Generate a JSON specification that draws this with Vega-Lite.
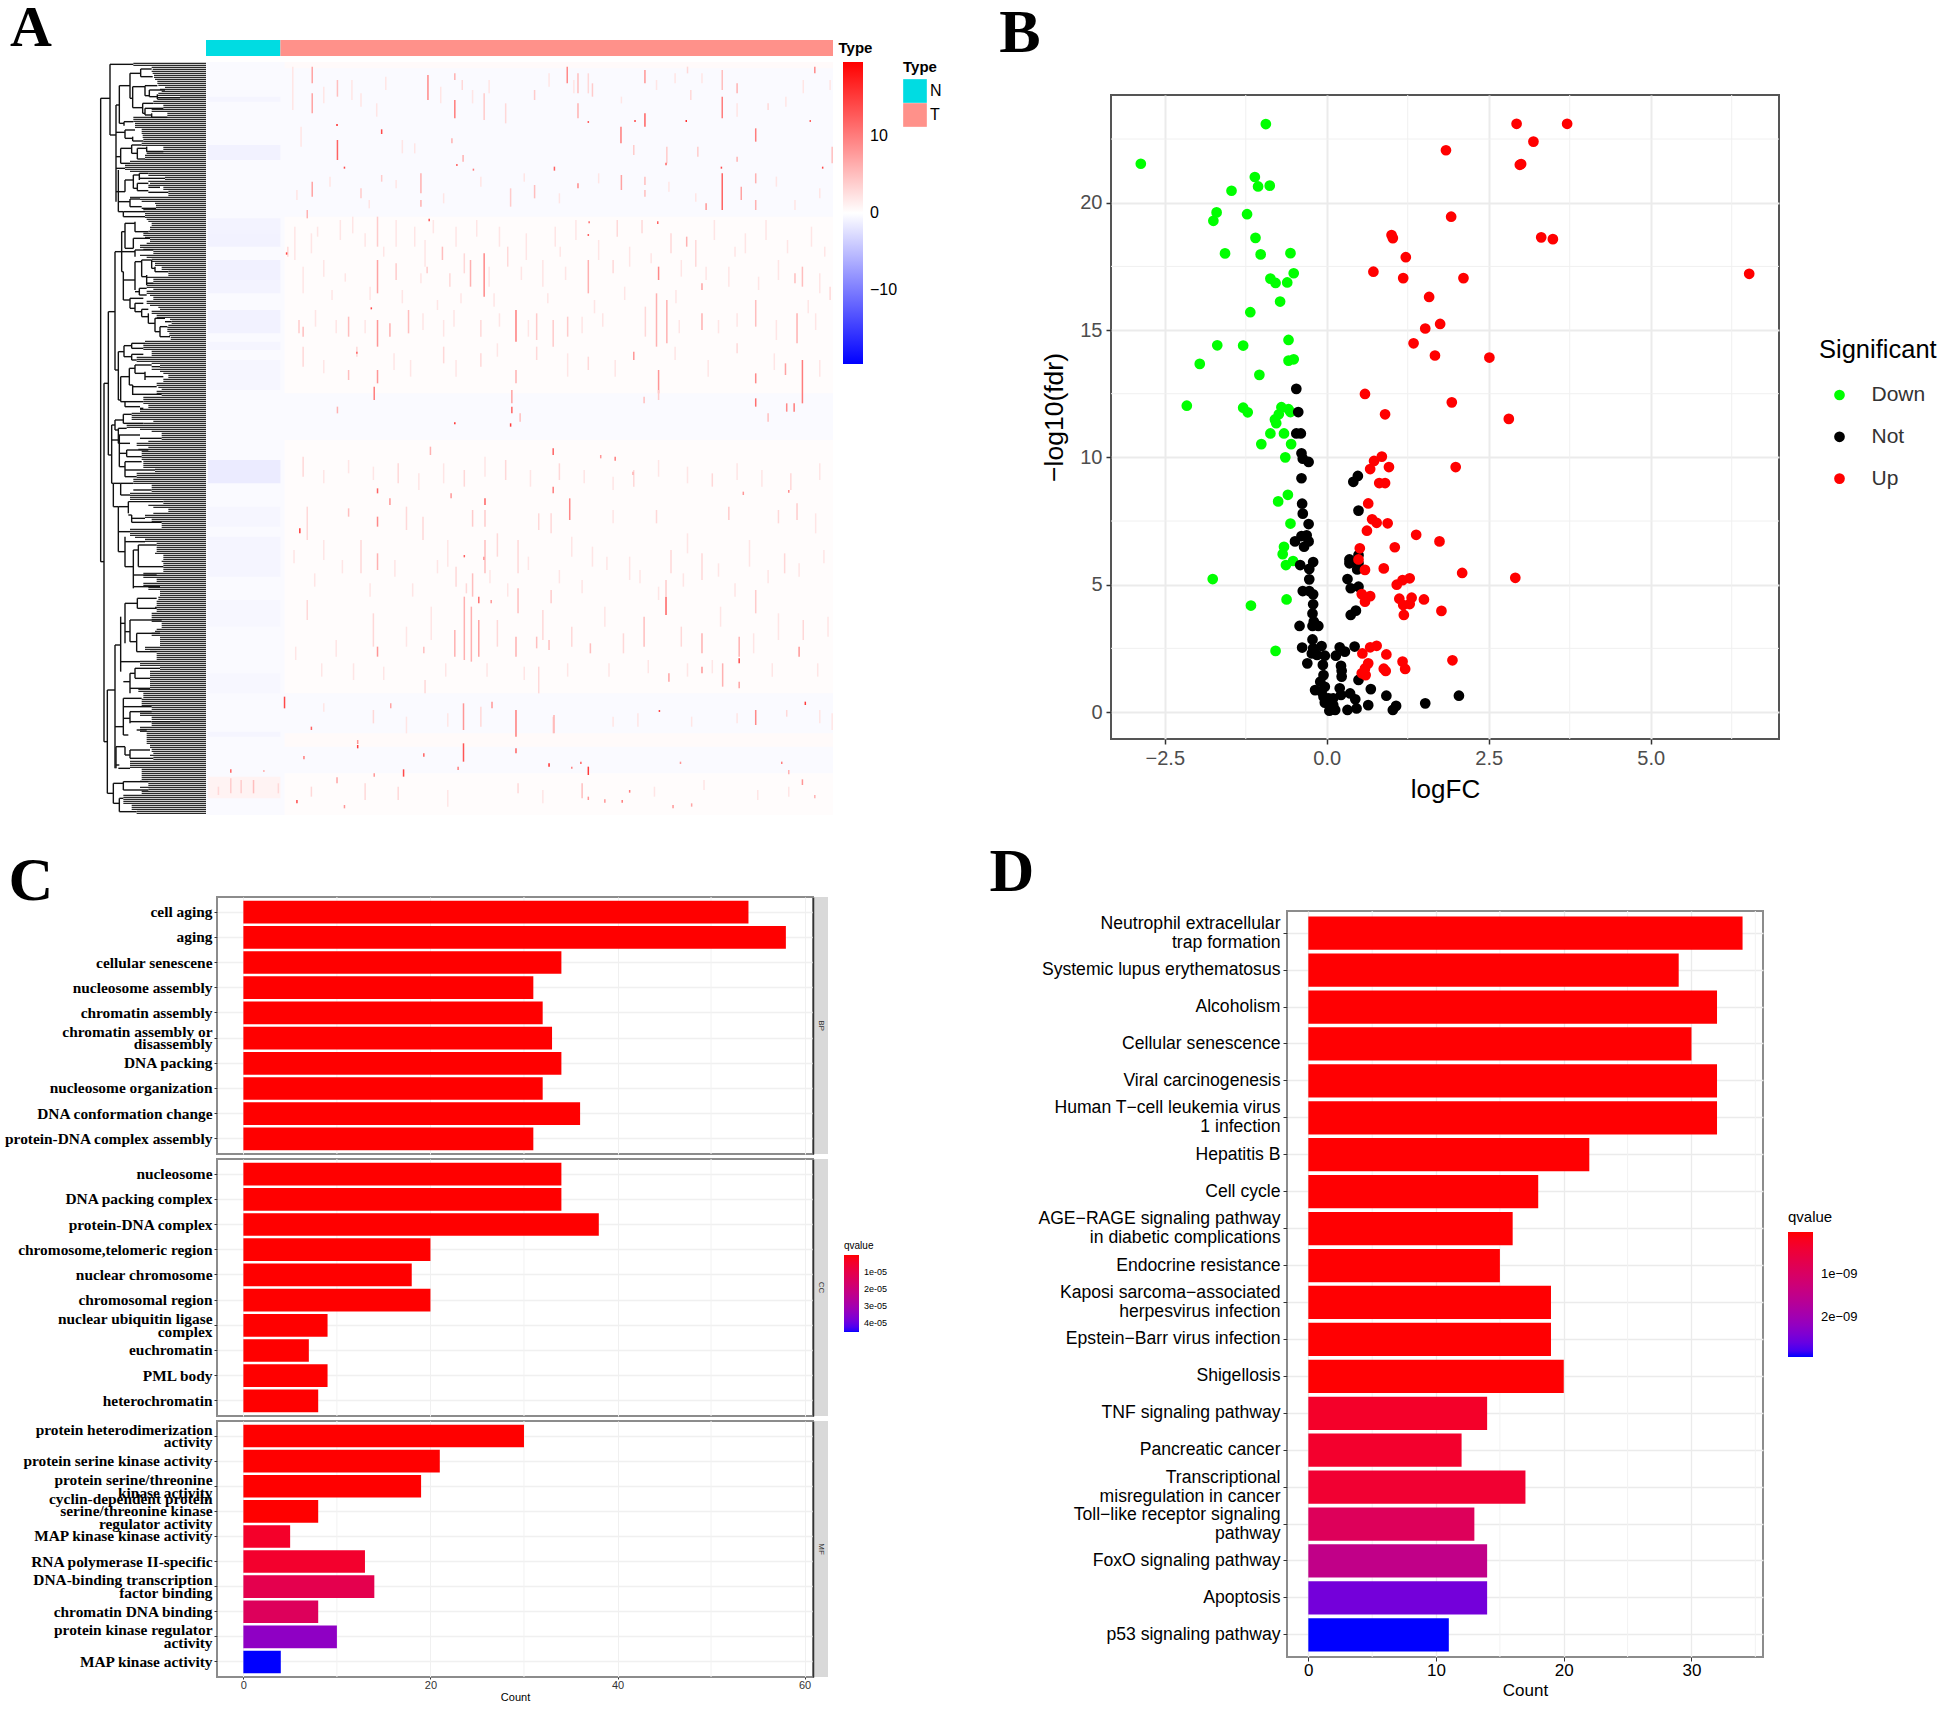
{"$schema":"https://vega.github.io/schema/vega-lite/v6.json","padding":0,"autosize":{"type":"pad"},"background":"white","config":{"view":{"stroke":null},"text":{"font":"Liberation Sans"},"axis":{"labelFont":"Liberation Sans","titleFont":"Liberation Sans","titleFontWeight":"normal"},"legend":{"labelFont":"Liberation Sans","titleFont":"Liberation Sans","titleFontWeight":"normal","padding":0}},"bounds":"flush","spacing":0,"resolve":{"scale":{"color":"independent"}},"hconcat":[
{"vconcat":[{"width":1944,"height":1709,"data":{"values":[]},"mark":"point"}],"bounds":"flush","spacing":0},
{"vconcat":[{"hconcat":[{"width":11,"height":1,"data":{"values":[]},"mark":"point"},{"width":40,"height":92,"data":{"values":[{"l":"A"}]},"mark":{"type":"text","font":"Liberation Serif","fontWeight":"bold","fontSize":58,"align":"center","baseline":"alphabetic"},"encoding":{"text":{"field":"l"}}}],"bounds":"flush","spacing":0}],"bounds":"flush","spacing":0},
{"vconcat":[{"width":1,"height":13,"data":{"values":[]},"mark":"point"},{"hconcat":[{"width":1000,"height":1,"data":{"values":[]},"mark":"point"},{"width":40,"height":40,"data":{"values":[{"l":"B"}]},"mark":{"type":"text","font":"Liberation Serif","fontWeight":"bold","fontSize":62,"align":"center","baseline":"middle"},"encoding":{"text":{"field":"l"}}}],"bounds":"flush","spacing":0}],"bounds":"flush","spacing":0},
{"vconcat":[{"width":1,"height":861,"data":{"values":[]},"mark":"point"},{"hconcat":[{"width":11,"height":1,"data":{"values":[]},"mark":"point"},{"width":40,"height":40,"data":{"values":[{"l":"C"}]},"mark":{"type":"text","font":"Liberation Serif","fontWeight":"bold","fontSize":62,"align":"center","baseline":"middle"},"encoding":{"text":{"field":"l"}}}],"bounds":"flush","spacing":0}],"bounds":"flush","spacing":0},
{"vconcat":[{"width":1,"height":852,"data":{"values":[]},"mark":"point"},{"hconcat":[{"width":992,"height":1,"data":{"values":[]},"mark":"point"},{"width":40,"height":40,"data":{"values":[{"l":"D"}]},"mark":{"type":"text","font":"Liberation Serif","fontWeight":"bold","fontSize":62,"align":"center","baseline":"middle"},"encoding":{"text":{"field":"l"}}}],"bounds":"flush","spacing":0}],"bounds":"flush","spacing":0},

{"vconcat":[{"width":1,"height":40,"data":{"values":[]},"mark":"point"},{"hconcat":[{"width":206,"height":1,"data":{"values":[]},"mark":"point"},
{"width":627,"height":16,"data":{"values":[{"Type":"N","s":15,"s2":195,"track":"Type"},{"Type":"T","s":195,"s2":1532,"track":"Type"}]},"mark":{"type":"rect"},"encoding":{"x":{"field":"s","type":"quantitative","scale":{"domain":[15,1532],"nice":false,"zero":false},"axis":null},"x2":{"field":"s2"},"y":{"field":"track","type":"nominal","axis":{"orient":"right","title":null,"ticks":false,"domain":false,"labelFontSize":15,"labelFontWeight":"bold","labelPadding":5,"labelColor":"black"}},"color":{"field":"Type","type":"nominal","scale":{"domain":["N","T"],"range":["#00DCE2","#FF918A"]},"legend":{"orient":"none","legendX":697,"legendY":20,"title":"Type","titleFontSize":15,"titleFontWeight":"bold","titleColor":"black","titlePadding":4,"symbolType":"square","symbolSize":560,"symbolStrokeWidth":0,"rowPadding":0,"labelFontSize":16,"labelOffset":3,"labelColor":"black"}}}}
],"bounds":"flush","spacing":0,"resolve":{"scale":{"color":"independent"}}}],"bounds":"flush","spacing":0,"resolve":{"scale":{"color":"independent"}}},

{"vconcat":[{"width":1,"height":62,"data":{"values":[]},"mark":"point"},{"hconcat":[{"width":206,"height":1,"data":{"values":[]},"mark":"point"},
{"width":627,"height":753,"layer":[
{"data":{"values":[{"s":15,"s2":1532,"g":6,"g2":2265,"v":-0.4},{"s":205,"s2":1532,"g":6,"g2":25,"v":0.4},{"s":205,"s2":1532,"g":470,"g2":1000,"v":0.2},{"s":205,"s2":1532,"g":1140,"g2":1900,"v":0.2},{"s":205,"s2":1532,"g":2020,"g2":2060,"v":0.4},{"s":205,"s2":1532,"g":2140,"g2":2265,"v":0.2},{"s":20,"s2":195,"g":110,"g2":125,"v":-0.8},{"s":20,"s2":195,"g":255,"g2":300,"v":-1},{"s":20,"s2":195,"g":475,"g2":520,"v":-0.9},{"s":20,"s2":195,"g":520,"g2":560,"v":-1},{"s":20,"s2":195,"g":600,"g2":660,"v":-1.1},{"s":20,"s2":195,"g":660,"g2":700,"v":-0.9},{"s":20,"s2":195,"g":750,"g2":820,"v":-1},{"s":20,"s2":195,"g":845,"g2":870,"v":-0.8},{"s":20,"s2":195,"g":900,"g2":990,"v":-0.7},{"s":20,"s2":195,"g":1200,"g2":1270,"v":-1.5},{"s":20,"s2":195,"g":1340,"g2":1400,"v":-0.7},{"s":20,"s2":195,"g":1430,"g2":1550,"v":-0.8},{"s":20,"s2":195,"g":1620,"g2":1700,"v":-0.6},{"s":20,"s2":195,"g":1840,"g2":1900,"v":-0.6},{"s":20,"s2":195,"g":2015,"g2":2030,"v":-0.8},{"s":20,"s2":195,"g":2150,"g2":2215,"v":0.9}]},"mark":{"type":"rect"},"encoding":{"x":{"field":"s","type":"quantitative","scale":{"domain":[15,1532],"nice":false,"zero":false},"axis":null},"x2":{"field":"s2"},"y":{"field":"g","type":"quantitative","scale":{"domain":[6,2265],"nice":false,"zero":false,"reverse":true},"axis":null},"y2":{"field":"g2"},"color":{"field":"v","type":"quantitative","scale":{"domain":[-19.5,0,19.5],"range":["#0000FF","#FFFFFF","#FF0000"],"interpolate":"rgb","nice":false,"zero":false},"legend":{"type":"gradient","orient":"none","legendX":637,"legendY":0,"title":null,"gradientLength":302,"gradientThickness":20,"gradientStrokeWidth":0,"values":[-10,0,10],"labelFontSize":16,"labelOffset":7,"labelColor":"black"}}}},
{"data":{"values":[{"s":225,"g":20,"g2":150,"v":2},{"s":245,"g":200,"g2":260,"v":2},{"s":300,"g":80,"g2":130,"v":2},{"s":368,"g":60,"g2":120,"v":2},{"s":390,"g":100,"g2":140,"v":2},{"s":450,"g":50,"g2":90,"v":2},{"s":428,"g":130,"g2":170,"v":2},{"s":490,"g":240,"g2":280,"v":2},{"s":520,"g":250,"g2":280,"v":2},{"s":583,"g":80,"g2":130,"v":2},{"s":635,"g":60,"g2":90,"v":3},{"s":660,"g":90,"g2":130,"v":2},{"s":700,"g":60,"g2":100,"v":2},{"s":740,"g":130,"g2":190,"v":3},{"s":845,"g":40,"g2":80,"v":2},{"s":905,"g":60,"g2":100,"v":2},{"s":940,"g":40,"g2":100,"v":3},{"s":1020,"g":110,"g2":130,"v":2},{"s":1105,"g":60,"g2":90,"v":2},{"s":1150,"g":40,"g2":70,"v":2},{"s":1180,"g":20,"g2":40,"v":3},{"s":1215,"g":40,"g2":70,"v":2},{"s":1300,"g":130,"g2":170,"v":2},{"s":1375,"g":130,"g2":150,"v":3},{"s":1418,"g":110,"g2":140,"v":2},{"s":1460,"g":60,"g2":100,"v":2},{"s":1525,"g":60,"g2":90,"v":2},{"s":230,"g":500,"g2":600,"v":2},{"s":250,"g":620,"g2":700,"v":2},{"s":270,"g":520,"g2":580,"v":2},{"s":300,"g":600,"g2":650,"v":2},{"s":340,"g":480,"g2":540,"v":2},{"s":370,"g":470,"g2":520,"v":2},{"s":400,"g":520,"g2":560,"v":2},{"s":475,"g":480,"g2":560,"v":2},{"s":520,"g":500,"g2":560,"v":2},{"s":545,"g":540,"g2":620,"v":2},{"s":565,"g":480,"g2":520,"v":2},{"s":620,"g":500,"g2":560,"v":2},{"s":640,"g":580,"g2":640,"v":3},{"s":670,"g":480,"g2":530,"v":2},{"s":700,"g":620,"g2":680,"v":2},{"s":725,"g":500,"g2":560,"v":2},{"s":745,"g":560,"g2":620,"v":3},{"s":790,"g":520,"g2":600,"v":2},{"s":830,"g":600,"g2":680,"v":2},{"s":860,"g":500,"g2":560,"v":2},{"s":885,"g":620,"g2":660,"v":2},{"s":910,"g":480,"g2":540,"v":2},{"s":965,"g":540,"g2":600,"v":2},{"s":1010,"g":480,"g2":530,"v":3},{"s":1040,"g":560,"g2":620,"v":2},{"s":1070,"g":480,"g2":520,"v":3},{"s":1140,"g":520,"g2":580,"v":3},{"s":1165,"g":600,"g2":650,"v":2},{"s":1200,"g":540,"g2":620,"v":3},{"s":1245,"g":480,"g2":540,"v":2},{"s":1280,"g":620,"g2":680,"v":2},{"s":1320,"g":520,"g2":580,"v":2},{"s":1370,"g":480,"g2":540,"v":2},{"s":1400,"g":600,"g2":660,"v":2},{"s":1480,"g":500,"g2":560,"v":2},{"s":1500,"g":640,"g2":700,"v":2},{"s":1525,"g":680,"g2":720,"v":3},{"s":280,"g":750,"g2":800,"v":2},{"s":330,"g":780,"g2":820,"v":2},{"s":400,"g":780,"g2":820,"v":2},{"s":540,"g":760,"g2":810,"v":2},{"s":590,"g":780,"g2":830,"v":2},{"s":615,"g":750,"g2":800,"v":2},{"s":680,"g":780,"g2":830,"v":3},{"s":725,"g":760,"g2":800,"v":2},{"s":795,"g":780,"g2":830,"v":2},{"s":925,"g":770,"g2":820,"v":2},{"s":975,"g":760,"g2":800,"v":2},{"s":1160,"g":780,"g2":820,"v":2},{"s":1255,"g":780,"g2":820,"v":2},{"s":1300,"g":760,"g2":800,"v":2},{"s":1395,"g":780,"g2":840,"v":2},{"s":1490,"g":760,"g2":810,"v":2},{"s":250,"g":860,"g2":920,"v":3},{"s":300,"g":900,"g2":940,"v":2},{"s":380,"g":860,"g2":890,"v":3},{"s":470,"g":880,"g2":930,"v":2},{"s":510,"g":900,"g2":950,"v":2},{"s":590,"g":860,"g2":910,"v":3},{"s":620,"g":900,"g2":950,"v":2},{"s":680,"g":880,"g2":920,"v":3},{"s":720,"g":850,"g2":890,"v":2},{"s":815,"g":860,"g2":900,"v":3},{"s":890,"g":880,"g2":950,"v":2},{"s":940,"g":890,"g2":930,"v":3},{"s":1005,"g":900,"g2":950,"v":2},{"s":1150,"g":860,"g2":900,"v":2},{"s":1230,"g":900,"g2":950,"v":2},{"s":1300,"g":850,"g2":880,"v":3},{"s":1390,"g":880,"g2":930,"v":2},{"s":1500,"g":900,"g2":950,"v":2},{"s":250,"g":1190,"g2":1250,"v":3},{"s":300,"g":1230,"g2":1270,"v":2},{"s":360,"g":1200,"g2":1240,"v":2},{"s":420,"g":1220,"g2":1260,"v":2},{"s":480,"g":1210,"g2":1270,"v":3},{"s":530,"g":1240,"g2":1290,"v":2},{"s":590,"g":1210,"g2":1270,"v":2},{"s":640,"g":1230,"g2":1280,"v":3},{"s":690,"g":1190,"g2":1250,"v":2},{"s":740,"g":1200,"g2":1260,"v":3},{"s":800,"g":1230,"g2":1280,"v":2},{"s":870,"g":1210,"g2":1260,"v":3},{"s":930,"g":1230,"g2":1270,"v":2},{"s":1000,"g":1250,"g2":1290,"v":2},{"s":1050,"g":1230,"g2":1280,"v":3},{"s":1110,"g":1200,"g2":1250,"v":2},{"s":1180,"g":1220,"g2":1270,"v":2},{"s":1240,"g":1240,"g2":1280,"v":3},{"s":1300,"g":1210,"g2":1260,"v":2},{"s":1360,"g":1230,"g2":1280,"v":2},{"s":1430,"g":1240,"g2":1290,"v":3},{"s":1500,"g":1210,"g2":1260,"v":2},{"s":260,"g":1340,"g2":1440,"v":3},{"s":300,"g":1440,"g2":1500,"v":2},{"s":390,"g":1440,"g2":1540,"v":3},{"s":500,"g":1340,"g2":1410,"v":3},{"s":540,"g":1370,"g2":1440,"v":3},{"s":600,"g":1440,"g2":1520,"v":2},{"s":620,"g":1520,"g2":1580,"v":3},{"s":660,"g":1350,"g2":1400,"v":4},{"s":690,"g":1350,"g2":1400,"v":4},{"s":720,"g":1420,"g2":1490,"v":3},{"s":770,"g":1440,"g2":1540,"v":3},{"s":820,"g":1360,"g2":1410,"v":3},{"s":850,"g":1360,"g2":1420,"v":3},{"s":900,"g":1430,"g2":1490,"v":2},{"s":950,"g":1460,"g2":1520,"v":2},{"s":1000,"g":1350,"g2":1390,"v":2},{"s":1040,"g":1490,"g2":1560,"v":2},{"s":1105,"g":1350,"g2":1390,"v":3},{"s":1140,"g":1470,"g2":1540,"v":3},{"s":1180,"g":1420,"g2":1480,"v":2},{"s":1215,"g":1480,"g2":1560,"v":3},{"s":1280,"g":1340,"g2":1380,"v":4},{"s":1330,"g":1440,"g2":1520,"v":2},{"s":1400,"g":1350,"g2":1390,"v":3},{"s":1415,"g":1480,"g2":1540,"v":3},{"s":1445,"g":1330,"g2":1380,"v":4},{"s":1490,"g":1360,"g2":1420,"v":2},{"s":260,"g":1620,"g2":1680,"v":3},{"s":330,"g":1740,"g2":1790,"v":2},{"s":420,"g":1660,"g2":1760,"v":3},{"s":500,"g":1700,"g2":1760,"v":2},{"s":560,"g":1640,"g2":1740,"v":2},{"s":720,"g":1680,"g2":1760,"v":3},{"s":830,"g":1650,"g2":1740,"v":3},{"s":900,"g":1700,"g2":1760,"v":3},{"s":980,"g":1640,"g2":1700,"v":2},{"s":1025,"g":1720,"g2":1780,"v":3},{"s":1165,"g":1700,"g2":1760,"v":3},{"s":1260,"g":1640,"g2":1700,"v":2},{"s":1340,"g":1720,"g2":1780,"v":2},{"s":1400,"g":1660,"g2":1740,"v":2},{"s":1460,"g":1680,"g2":1740,"v":3},{"s":1520,"g":1670,"g2":1730,"v":2},{"s":820,"g":1820,"g2":1900,"v":3},{"s":545,"g":1860,"g2":1900,"v":3},{"s":300,"g":1930,"g2":1955,"v":2},{"s":420,"g":1950,"g2":1990,"v":3},{"s":500,"g":1970,"g2":2020,"v":2},{"s":600,"g":1960,"g2":2000,"v":2},{"s":680,"g":1940,"g2":2000,"v":3},{"s":855,"g":1970,"g2":2020,"v":3},{"s":1000,"g":1970,"g2":2000,"v":2},{"s":1060,"g":1960,"g2":2000,"v":2},{"s":1190,"g":1970,"g2":2000,"v":2},{"s":1300,"g":1960,"g2":1990,"v":2},{"s":1420,"g":1950,"g2":1970,"v":3},{"s":1500,"g":1950,"g2":1990,"v":2},{"s":1530,"g":1960,"g2":2010,"v":2},{"s":270,"g":2180,"g2":2210,"v":3},{"s":400,"g":2170,"g2":2220,"v":3},{"s":480,"g":2180,"g2":2220,"v":3},{"s":600,"g":2190,"g2":2240,"v":2},{"s":770,"g":2170,"g2":2200,"v":3},{"s":830,"g":2190,"g2":2230,"v":2},{"s":1100,"g":2180,"g2":2210,"v":2},{"s":1220,"g":2160,"g2":2190,"v":2},{"s":1350,"g":2190,"g2":2220,"v":2},{"s":1425,"g":2180,"g2":2210,"v":2},
{"s":213,"g":560,"g2":590,"v":3},{"s":285,"g":500,"g2":530,"v":2},{"s":320,"g":690,"g2":720,"v":2},{"s":352,"g":640,"g2":665,"v":2},{"s":412,"g":680,"g2":720,"v":2},{"s":445,"g":560,"g2":590,"v":2},{"s":490,"g":690,"g2":730,"v":2},{"s":535,"g":640,"g2":670,"v":2},{"s":575,"g":720,"g2":750,"v":2},{"s":632,"g":700,"g2":730,"v":2},{"s":712,"g":700,"g2":740,"v":2},{"s":778,"g":620,"g2":660,"v":2},{"s":842,"g":700,"g2":730,"v":2},{"s":872,"g":560,"g2":590,"v":2},{"s":955,"g":720,"g2":760,"v":2},{"s":1028,"g":680,"g2":720,"v":2},{"s":1092,"g":580,"g2":610,"v":2},{"s":1152,"g":690,"g2":730,"v":2},{"s":1225,"g":620,"g2":660,"v":2},{"s":1295,"g":560,"g2":590,"v":2},{"s":1352,"g":650,"g2":690,"v":2},{"s":1422,"g":540,"g2":580,"v":2},{"s":1472,"g":720,"g2":760,"v":2},{"s":1512,"g":560,"g2":590,"v":2},{"s":228,"g":1470,"g2":1510,"v":2},{"s":278,"g":1540,"g2":1580,"v":2},{"s":345,"g":1500,"g2":1540,"v":2},{"s":412,"g":1570,"g2":1610,"v":2},{"s":472,"g":1500,"g2":1550,"v":2},{"s":515,"g":1570,"g2":1610,"v":2},{"s":575,"g":1500,"g2":1540,"v":2},{"s":645,"g":1570,"g2":1600,"v":3},{"s":702,"g":1530,"g2":1570,"v":2},{"s":745,"g":1570,"g2":1610,"v":2},{"s":795,"g":1490,"g2":1530,"v":2},{"s":870,"g":1530,"g2":1570,"v":2},{"s":925,"g":1560,"g2":1600,"v":2},{"s":985,"g":1490,"g2":1530,"v":2},{"s":1065,"g":1530,"g2":1570,"v":2},{"s":1110,"g":1580,"g2":1620,"v":2},{"s":1170,"g":1540,"g2":1580,"v":2},{"s":1255,"g":1510,"g2":1550,"v":2},{"s":1295,"g":1570,"g2":1610,"v":2},{"s":1375,"g":1530,"g2":1570,"v":2},{"s":1450,"g":1510,"g2":1550,"v":2},{"s":1510,"g":1470,"g2":1510,"v":2},{"s":232,"g":1760,"g2":1800,"v":2},{"s":295,"g":1810,"g2":1850,"v":2},{"s":372,"g":1810,"g2":1860,"v":2},{"s":445,"g":1820,"g2":1860,"v":2},{"s":595,"g":1810,"g2":1850,"v":2},{"s":695,"g":1810,"g2":1850,"v":2},{"s":785,"g":1820,"g2":1860,"v":2},{"s":890,"g":1810,"g2":1850,"v":2},{"s":990,"g":1810,"g2":1850,"v":2},{"s":1085,"g":1800,"g2":1840,"v":2},{"s":1180,"g":1810,"g2":1850,"v":2},{"s":1240,"g":1800,"g2":1840,"v":2},{"s":1385,"g":1810,"g2":1850,"v":2},{"s":1495,"g":1810,"g2":1850,"v":2},{"s":235,"g":390,"g2":420,"v":2},{"s":315,"g":350,"g2":380,"v":2},{"s":410,"g":420,"g2":445,"v":2},{"s":475,"g":360,"g2":385,"v":2},{"s":590,"g":400,"g2":430,"v":2},{"s":680,"g":350,"g2":380,"v":2},{"s":785,"g":340,"g2":365,"v":2},{"s":870,"g":400,"g2":430,"v":2},{"s":965,"g":340,"g2":370,"v":2},{"s":1135,"g":365,"g2":395,"v":2},{"s":1200,"g":400,"g2":425,"v":2},{"s":1395,"g":350,"g2":380,"v":2},{"s":1440,"g":420,"g2":450,"v":2},{"s":1500,"g":385,"g2":415,"v":2},
{"s":272,"g":20,"g2":70,"v":7},{"s":272,"g":100,"g2":160,"v":7},{"s":333,"g":60,"g2":110,"v":5},{"s":333,"g":240,"g2":300,"v":12},{"s":552,"g":45,"g2":120,"v":9},{"s":617,"g":40,"g2":60,"v":6},{"s":617,"g":120,"g2":175,"v":10},{"s":688,"g":100,"g2":180,"v":4},{"s":889,"g":20,"g2":70,"v":9},{"s":915,"g":40,"g2":100,"v":5},{"s":915,"g":130,"g2":175,"v":6},{"s":950,"g":70,"g2":110,"v":4},{"s":1077,"g":30,"g2":70,"v":8},{"s":1077,"g":160,"g2":200,"v":12},{"s":1264,"g":30,"g2":90,"v":5},{"s":1264,"g":110,"g2":175,"v":10},{"s":1300,"g":70,"g2":100,"v":6},{"s":1488,"g":20,"g2":40,"v":9},{"s":1188,"g":90,"g2":120,"v":3},{"s":810,"g":90,"g2":120,"v":4},{"s":1019,"g":200,"g2":250,"v":10},{"s":1345,"g":205,"g2":245,"v":10},{"s":1264,"g":340,"g2":450,"v":12},{"s":1310,"g":380,"g2":420,"v":7},{"s":1345,"g":340,"g2":370,"v":6},{"s":1345,"g":420,"g2":450,"v":6},{"s":1020,"g":345,"g2":390,"v":7},{"s":1077,"g":350,"g2":375,"v":5},{"s":1077,"g":390,"g2":410,"v":5},{"s":535,"g":340,"g2":400,"v":6},{"s":535,"g":420,"g2":440,"v":6},{"s":272,"g":365,"g2":410,"v":7},{"s":260,"g":450,"g2":475,"v":6},{"s":610,"g":235,"g2":250,"v":6},{"s":637,"g":285,"g2":305,"v":6},{"s":1300,"g":290,"g2":305,"v":6},{"s":1050,"g":255,"g2":285,"v":4},{"s":1130,"g":260,"g2":310,"v":4},{"s":1205,"g":260,"g2":290,"v":4},{"s":1530,"g":260,"g2":310,"v":5},{"s":390,"g":385,"g2":415,"v":4},{"s":440,"g":345,"g2":365,"v":4},{"s":752,"g":385,"g2":440,"v":4},{"s":810,"g":375,"g2":415,"v":5},{"s":915,"g":370,"g2":385,"v":9},{"s":1225,"g":430,"g2":450,"v":8},{"s":332,"g":192,"g2":198,"v":16},{"s":440,"g":208,"g2":222,"v":14},{"s":350,"g":320,"g2":326,"v":14},{"s":1177,"g":180,"g2":186,"v":16},{"s":1053,"g":180,"g2":186,"v":14},{"s":940,"g":183,"g2":189,"v":12},{"s":1477,"g":180,"g2":186,"v":12},{"s":1507,"g":320,"g2":326,"v":14},{"s":1262,"g":320,"g2":326,"v":14},{"s":858,"g":320,"g2":332,"v":12},{"s":662,"g":326,"g2":332,"v":10},{"s":1128,"g":308,"g2":316,"v":12},{"s":622,"g":312,"g2":318,"v":12},{"s":555,"g":476,"g2":484,"v":13},{"s":1108,"g":484,"g2":492,"v":12},{"s":940,"g":522,"g2":528,"v":12},{"s":942,"g":484,"g2":490,"v":11},{"s":210,"g":577,"g2":584,"v":14},{"s":415,"g":742,"g2":748,"v":14},{"s":617,"g":1087,"g2":1093,"v":16},{"s":380,"g":875,"g2":881,"v":12},
{"s":430,"g":470,"g2":560,"v":4},{"s":430,"g":600,"g2":700,"v":7},{"s":430,"g":780,"g2":860,"v":8},{"s":688,"g":580,"g2":710,"v":9},{"s":655,"g":600,"g2":680,"v":6},{"s":765,"g":750,"g2":845,"v":10},{"s":765,"g":930,"g2":970,"v":6},{"s":940,"g":600,"g2":700,"v":6},{"s":1110,"g":620,"g2":660,"v":9},{"s":1105,"g":700,"g2":860,"v":6},{"s":1130,"g":720,"g2":850,"v":6},{"s":1215,"g":760,"g2":810,"v":6},{"s":1215,"g":670,"g2":690,"v":7},{"s":1178,"g":530,"g2":560,"v":6},{"s":1345,"g":720,"g2":800,"v":5},{"s":1445,"g":760,"g2":850,"v":6},{"s":1458,"g":620,"g2":680,"v":5},{"s":1440,"g":640,"g2":670,"v":5},{"s":505,"g":750,"g2":820,"v":5},{"s":460,"g":790,"g2":830,"v":6},{"s":360,"g":770,"g2":830,"v":5},{"s":587,"g":560,"g2":600,"v":5},{"s":475,"g":610,"g2":660,"v":4},{"s":550,"g":620,"g2":640,"v":4},{"s":605,"g":640,"g2":680,"v":3},{"s":815,"g":760,"g2":840,"v":4},{"s":855,"g":780,"g2":860,"v":4},{"s":890,"g":770,"g2":830,"v":4},{"s":1078,"g":740,"g2":830,"v":3},{"s":1000,"g":600,"g2":640,"v":3},{"s":1050,"g":875,"g2":900,"v":8},{"s":1110,"g":930,"g2":1000,"v":8},{"s":1345,"g":940,"g2":970,"v":9},{"s":1417,"g":910,"g2":945,"v":7},{"s":1458,"g":900,"g2":1030,"v":10},{"s":1345,"g":1015,"g2":1040,"v":11},{"s":1420,"g":1030,"g2":1055,"v":9},{"s":1438,"g":1030,"g2":1055,"v":10},{"s":430,"g":930,"g2":970,"v":8},{"s":422,"g":980,"g2":1020,"v":10},{"s":755,"g":990,"g2":1030,"v":7},{"s":755,"g":1040,"g2":1060,"v":12},{"s":752,"g":1090,"g2":1100,"v":15},{"s":360,"g":930,"g2":960,"v":5},{"s":250,"g":800,"g2":830,"v":5},{"s":240,"g":780,"g2":820,"v":4},{"s":1075,"g":1010,"g2":1030,"v":5},{"s":1110,"g":990,"g2":1020,"v":4},{"s":1375,"g":1060,"g2":1085,"v":5},{"s":775,"g":1060,"g2":1085,"v":5},{"s":333,"g":1040,"g2":1060,"v":6},
{"s":558,"g":1160,"g2":1185,"v":6},{"s":855,"g":1165,"g2":1185,"v":12},{"s":855,"g":1280,"g2":1300,"v":10},{"s":430,"g":1285,"g2":1300,"v":12},{"s":608,"g":1300,"g2":1315,"v":8},{"s":690,"g":1315,"g2":1335,"v":12},{"s":895,"g":1315,"g2":1380,"v":9},{"s":460,"g":1315,"g2":1335,"v":8},{"s":242,"g":1405,"g2":1420,"v":15},{"s":430,"g":1370,"g2":1400,"v":9},{"s":430,"g":1480,"g2":1530,"v":6},{"s":360,"g":1345,"g2":1370,"v":5},{"s":688,"g":1490,"g2":1500,"v":12},{"s":640,"g":1485,"g2":1492,"v":12},{"s":690,"g":1440,"g2":1540,"v":5},{"s":660,"g":1540,"g2":1610,"v":5},{"s":1128,"g":1610,"g2":1665,"v":12},{"s":1128,"g":1560,"g2":1610,"v":4},{"s":1345,"g":1590,"g2":1660,"v":4},{"s":770,"g":1585,"g2":1660,"v":5},{"s":850,"g":1590,"g2":1630,"v":4},{"s":675,"g":1610,"g2":1630,"v":11},{"s":705,"g":1620,"g2":1630,"v":8},{"s":640,"g":1610,"g2":1800,"v":6},{"s":657,"g":1640,"g2":1805,"v":6},{"s":617,"g":1710,"g2":1790,"v":6},{"s":675,"g":1680,"g2":1790,"v":7},{"s":765,"g":1730,"g2":1790,"v":6},{"s":1075,"g":1670,"g2":1760,"v":5},{"s":1215,"g":1720,"g2":1780,"v":6},{"s":1305,"g":1730,"g2":1790,"v":6},{"s":1450,"g":1760,"g2":1790,"v":8},{"s":1305,"g":1795,"g2":1810,"v":14},{"s":1265,"g":1810,"g2":1880,"v":6},{"s":1305,"g":1865,"g2":1885,"v":7},{"s":1135,"g":1840,"g2":1865,"v":7},{"s":1215,"g":1820,"g2":1840,"v":8},{"s":430,"g":1760,"g2":1790,"v":8},{"s":542,"g":1760,"g2":1780,"v":5},{"s":845,"g":1740,"g2":1770,"v":5},{"s":815,"g":1730,"g2":1765,"v":5},{"s":945,"g":1750,"g2":1780,"v":5},{"s":205,"g":1910,"g2":1945,"v":14},{"s":638,"g":1930,"g2":2010,"v":8},{"s":707,"g":1925,"g2":1945,"v":8},{"s":462,"g":1930,"g2":1945,"v":7},{"s":765,"g":1950,"g2":2030,"v":10},{"s":765,"g":2065,"g2":2080,"v":12},{"s":857,"g":1965,"g2":2020,"v":6},{"s":1345,"g":1950,"g2":1995,"v":9},{"s":1465,"g":1925,"g2":1935,"v":15},{"s":1112,"g":1950,"g2":1956,"v":14},{"s":638,"g":2050,"g2":2105,"v":13},{"s":382,"g":2055,"g2":2065,"v":15},{"s":382,"g":2040,"g2":2052,"v":8},{"s":270,"g":2000,"g2":2010,"v":12},{"s":542,"g":2080,"g2":2090,"v":12},{"s":252,"g":2088,"g2":2098,"v":10},{"s":845,"g":2110,"g2":2120,"v":16},{"s":922,"g":2105,"g2":2112,"v":12},{"s":940,"g":2120,"g2":2145,"v":15},{"s":900,"g":2120,"g2":2126,"v":10},{"s":625,"g":2120,"g2":2130,"v":10},{"s":1408,"g":2105,"g2":2112,"v":10},{"s":1163,"g":2105,"g2":2112,"v":8},{"s":493,"g":2128,"g2":2150,"v":14},{"s":422,"g":2140,"g2":2150,"v":8},{"s":332,"g":2152,"g2":2170,"v":7},{"s":1458,"g":2158,"g2":2175,"v":8},{"s":1425,"g":2130,"g2":2143,"v":6},{"s":235,"g":2220,"g2":2230,"v":14},{"s":925,"g":2170,"g2":2215,"v":5},{"s":1040,"g":2190,"g2":2198,"v":10},{"s":1022,"g":2220,"g2":2228,"v":10},{"s":980,"g":2218,"g2":2228,"v":8},{"s":940,"g":2210,"g2":2220,"v":8},{"s":350,"g":2235,"g2":2245,"v":8},{"s":1190,"g":2230,"g2":2240,"v":7},{"s":1145,"g":2235,"g2":2245,"v":8},{"s":1488,"g":2205,"g2":2215,"v":6},{"s":75,"g":2128,"g2":2138,"v":12},{"s":155,"g":2130,"g2":2136,"v":6},{"s":75,"g":2155,"g2":2200,"v":4},{"s":100,"g":2160,"g2":2200,"v":4},{"s":130,"g":2160,"g2":2200,"v":5},{"s":45,"g":2180,"g2":2205,"v":3},{"s":190,"g":2170,"g2":2200,"v":3},{"s":1005,"g":1190,"g2":1202,"v":10},{"s":970,"g":1185,"g2":1195,"v":8},{"s":1048,"g":1235,"g2":1245,"v":6},{"s":1315,"g":1295,"g2":1305,"v":8},{"s":1425,"g":1290,"g2":1298,"v":9}]},"mark":{"type":"rule","strokeWidth":1.5},"encoding":{"x":{"field":"s","type":"quantitative","scale":{"domain":[15,1532],"nice":false,"zero":false},"axis":null},"y":{"field":"g","type":"quantitative","scale":{"domain":[6,2265],"nice":false,"zero":false,"reverse":true},"axis":null},"y2":{"field":"g2"},"stroke":{"field":"v","type":"quantitative","scale":{"domain":[-19.5,0,19.5],"range":["#0000FF","#FFFFFF","#FF0000"],"interpolate":"rgb","nice":false,"zero":false},"legend":null}}}
]}
],"bounds":"flush","spacing":0,"resolve":{"scale":{"color":"independent"}}}],"bounds":"flush","spacing":0,"resolve":{"scale":{"color":"independent"}}},

{"vconcat":[{"width":1,"height":62,"data":{"values":[]},"mark":"point"},{"hconcat":[{"width":80,"height":1,"data":{"values":[]},"mark":"point"},
{"width":126,"height":753,"layer":[
{"data":{"values":[{"d":160,"g":10},{"d":160,"g":16},{"d":215,"g":22},{"d":218,"g":28},{"d":215,"g":34},{"d":218,"g":40},{"d":222,"g":46},{"d":222,"g":52},{"d":225,"g":58},{"d":232,"g":64},{"d":232,"g":70},{"d":235,"g":76},{"d":255,"g":82},{"d":240,"g":88},{"d":245,"g":94},{"d":235,"g":100},{"d":232,"g":106},{"d":300,"g":112},{"d":232,"g":118},{"d":220,"g":124},{"d":220,"g":130},{"d":250,"g":136},{"d":250,"g":142},{"d":215,"g":148},{"d":215,"g":154},{"d":262,"g":160},{"d":262,"g":166},{"d":160,"g":172},{"d":160,"g":178},{"d":160,"g":184},{"d":165,"g":190},{"d":165,"g":196},{"d":165,"g":202},{"d":185,"g":208},{"d":185,"g":214},{"d":185,"g":220},{"d":188,"g":226},{"d":188,"g":232},{"d":190,"g":238},{"d":190,"g":244},{"d":185,"g":250},{"d":185,"g":256},{"d":250,"g":262},{"d":250,"g":268},{"d":200,"g":274},{"d":200,"g":280},{"d":195,"g":286},{"d":195,"g":292},{"d":195,"g":298},{"d":150,"g":304},{"d":150,"g":310},{"d":135,"g":316},{"d":135,"g":322},{"d":135,"g":328},{"d":150,"g":334},{"d":205,"g":340},{"d":205,"g":346},{"d":255,"g":352},{"d":255,"g":358},{"d":205,"g":364},{"d":210,"g":370},{"d":205,"g":376},{"d":250,"g":382},{"d":250,"g":388},{"d":265,"g":394},{"d":265,"g":400},{"d":265,"g":406},{"d":150,"g":412},{"d":180,"g":418},{"d":185,"g":424},{"d":225,"g":430},{"d":228,"g":436},{"d":228,"g":442},{"d":190,"g":448},{"d":190,"g":454},{"d":195,"g":460},{"d":195,"g":466},{"d":195,"g":472},{"d":200,"g":478},{"d":205,"g":484},{"d":215,"g":490},{"d":215,"g":496},{"d":210,"g":502},{"d":210,"g":508},{"d":205,"g":514},{"d":190,"g":520},{"d":190,"g":526},{"d":195,"g":532},{"d":210,"g":538},{"d":210,"g":544},{"d":200,"g":550},{"d":180,"g":556},{"d":180,"g":562},{"d":190,"g":568},{"d":220,"g":574},{"d":220,"g":580},{"d":180,"g":586},{"d":200,"g":592},{"d":215,"g":598},{"d":215,"g":604},{"d":225,"g":610},{"d":225,"g":616},{"d":245,"g":622},{"d":245,"g":628},{"d":265,"g":634},{"d":265,"g":640},{"d":265,"g":646},{"d":200,"g":652},{"d":220,"g":658},{"d":220,"g":664},{"d":200,"g":670},{"d":200,"g":676},{"d":200,"g":682},{"d":220,"g":688},{"d":200,"g":694},{"d":200,"g":700},{"d":210,"g":706},{"d":220,"g":712},{"d":220,"g":718},{"d":200,"g":724},{"d":200,"g":730},{"d":210,"g":736},{"d":235,"g":742},{"d":240,"g":748},{"d":215,"g":754},{"d":215,"g":760},{"d":230,"g":766},{"d":230,"g":772},{"d":270,"g":778},{"d":275,"g":784},{"d":275,"g":790},{"d":265,"g":796},{"d":262,"g":802},{"d":262,"g":808},{"d":262,"g":814},{"d":268,"g":820},{"d":268,"g":826},{"d":272,"g":832},{"d":272,"g":838},{"d":195,"g":844},{"d":195,"g":850},{"d":190,"g":856},{"d":190,"g":862},{"d":190,"g":868},{"d":215,"g":874},{"d":215,"g":880},{"d":215,"g":886},{"d":170,"g":892},{"d":170,"g":898},{"d":170,"g":904},{"d":215,"g":910},{"d":240,"g":916},{"d":240,"g":922},{"d":215,"g":928},{"d":240,"g":934},{"d":250,"g":940},{"d":265,"g":946},{"d":265,"g":952},{"d":250,"g":958},{"d":250,"g":964},{"d":230,"g":970},{"d":230,"g":976},{"d":235,"g":982},{"d":245,"g":988},{"d":230,"g":994},{"d":230,"g":1000},{"d":245,"g":1006},{"d":190,"g":1012},{"d":190,"g":1018},{"d":190,"g":1024},{"d":190,"g":1030},{"d":205,"g":1036},{"d":205,"g":1042},{"d":180,"g":1048},{"d":180,"g":1054},{"d":155,"g":1060},{"d":155,"g":1066},{"d":155,"g":1072},{"d":155,"g":1078},{"d":220,"g":1084},{"d":190,"g":1090},{"d":140,"g":1096},{"d":140,"g":1102},{"d":180,"g":1108},{"d":215,"g":1114},{"d":245,"g":1120},{"d":245,"g":1126},{"d":245,"g":1132},{"d":245,"g":1138},{"d":205,"g":1144},{"d":170,"g":1150},{"d":170,"g":1156},{"d":205,"g":1162},{"d":175,"g":1168},{"d":185,"g":1174},{"d":185,"g":1180},{"d":185,"g":1186},{"d":185,"g":1192},{"d":185,"g":1198},{"d":190,"g":1204},{"d":190,"g":1210},{"d":190,"g":1216},{"d":190,"g":1222},{"d":225,"g":1228},{"d":225,"g":1234},{"d":170,"g":1240},{"d":170,"g":1246},{"d":170,"g":1252},{"d":160,"g":1258},{"d":160,"g":1264},{"d":160,"g":1270},{"d":215,"g":1276},{"d":215,"g":1282},{"d":215,"g":1288},{"d":215,"g":1294},{"d":150,"g":1300},{"d":150,"g":1306},{"d":150,"g":1312},{"d":150,"g":1318},{"d":250,"g":1324},{"d":250,"g":1330},{"d":205,"g":1336},{"d":220,"g":1342},{"d":265,"g":1348},{"d":265,"g":1354},{"d":220,"g":1360},{"d":195,"g":1366},{"d":195,"g":1372},{"d":215,"g":1378},{"d":215,"g":1384},{"d":245,"g":1390},{"d":245,"g":1396},{"d":245,"g":1402},{"d":150,"g":1408},{"d":150,"g":1414},{"d":150,"g":1420},{"d":150,"g":1426},{"d":165,"g":1432},{"d":195,"g":1438},{"d":195,"g":1444},{"d":230,"g":1450},{"d":230,"g":1456},{"d":230,"g":1462},{"d":230,"g":1468},{"d":230,"g":1474},{"d":225,"g":1480},{"d":250,"g":1486},{"d":250,"g":1492},{"d":250,"g":1498},{"d":245,"g":1504},{"d":250,"g":1510},{"d":250,"g":1516},{"d":250,"g":1522},{"d":250,"g":1528},{"d":250,"g":1534},{"d":190,"g":1540},{"d":190,"g":1546},{"d":190,"g":1552},{"d":230,"g":1558},{"d":230,"g":1564},{"d":190,"g":1570},{"d":190,"g":1576},{"d":205,"g":1582},{"d":205,"g":1588},{"d":240,"g":1594},{"d":240,"g":1600},{"d":240,"g":1606},{"d":235,"g":1612},{"d":235,"g":1618},{"d":230,"g":1624},{"d":230,"g":1630},{"d":230,"g":1636},{"d":225,"g":1642},{"d":230,"g":1648},{"d":230,"g":1654},{"d":215,"g":1660},{"d":215,"g":1666},{"d":215,"g":1672},{"d":215,"g":1678},{"d":215,"g":1684},{"d":245,"g":1690},{"d":245,"g":1696},{"d":245,"g":1702},{"d":230,"g":1708},{"d":225,"g":1714},{"d":215,"g":1720},{"d":215,"g":1726},{"d":240,"g":1732},{"d":240,"g":1738},{"d":240,"g":1744},{"d":240,"g":1750},{"d":240,"g":1756},{"d":195,"g":1762},{"d":195,"g":1768},{"d":210,"g":1774},{"d":230,"g":1780},{"d":230,"g":1786},{"d":230,"g":1792},{"d":230,"g":1798},{"d":180,"g":1804},{"d":180,"g":1810},{"d":180,"g":1816},{"d":240,"g":1822},{"d":240,"g":1828},{"d":210,"g":1834},{"d":210,"g":1840},{"d":210,"g":1846},{"d":210,"g":1852},{"d":210,"g":1858},{"d":210,"g":1864},{"d":210,"g":1870},{"d":210,"g":1876},{"d":210,"g":1882},{"d":175,"g":1888},{"d":175,"g":1894},{"d":190,"g":1900},{"d":190,"g":1906},{"d":190,"g":1912},{"d":185,"g":1918},{"d":185,"g":1924},{"d":185,"g":1930},{"d":185,"g":1936},{"d":215,"g":1942},{"d":215,"g":1948},{"d":180,"g":1954},{"d":180,"g":1960},{"d":180,"g":1966},{"d":215,"g":1972},{"d":215,"g":1978},{"d":300,"g":1984},{"d":215,"g":1990},{"d":215,"g":1996},{"d":180,"g":2002},{"d":180,"g":2008},{"d":180,"g":2014},{"d":200,"g":2020},{"d":200,"g":2026},{"d":200,"g":2032},{"d":200,"g":2038},{"d":200,"g":2044},{"d":200,"g":2050},{"d":210,"g":2056},{"d":210,"g":2062},{"d":215,"g":2068},{"d":215,"g":2074},{"d":220,"g":2080},{"d":210,"g":2086},{"d":220,"g":2092},{"d":220,"g":2098},{"d":150,"g":2104},{"d":150,"g":2110},{"d":150,"g":2116},{"d":150,"g":2122},{"d":185,"g":2128},{"d":185,"g":2134},{"d":185,"g":2140},{"d":185,"g":2146},{"d":185,"g":2152},{"d":185,"g":2158},{"d":180,"g":2164},{"d":205,"g":2170},{"d":205,"g":2176},{"d":180,"g":2182},{"d":205,"g":2188},{"d":185,"g":2194},{"d":185,"g":2200},{"d":130,"g":2206},{"d":130,"g":2212},{"d":130,"g":2218},{"d":130,"g":2224},{"d":130,"g":2230},{"d":155,"g":2236},{"d":155,"g":2242},{"d":155,"g":2248},{"d":170,"g":2254},{"d":170,"g":2260}]},"mark":{"type":"rule","strokeWidth":1.4,"color":"#2A2A2A"},"encoding":{"x":{"field":"d","type":"quantitative","scale":{"domain":[0,378],"nice":false,"zero":false},"axis":null},"x2":{"datum":378},"y":{"field":"g","type":"quantitative","scale":{"domain":[6,2265],"nice":false,"zero":false,"reverse":true},"axis":null}}},
{"data":{"values":[{"a":62,"b":62,"c":115,"e":1505},{"a":62,"b":90,"c":115,"e":115},{"a":62,"b":72,"c":1505,"e":1505},{"a":90,"b":90,"c":13,"e":225},{"a":90,"b":160,"c":13,"e":13},{"a":90,"b":108,"c":225,"e":225},{"a":108,"b":108,"c":135,"e":425},{"a":108,"b":118,"c":135,"e":135},{"a":118,"b":118,"c":77,"e":190},{"a":118,"b":150,"c":77,"e":77},{"a":150,"b":150,"c":40,"e":115},{"a":150,"b":182,"c":40,"e":40},{"a":182,"b":182,"c":27,"e":50},{"a":182,"b":215,"c":27,"e":27},{"a":182,"b":218,"c":50,"e":50},{"a":150,"b":158,"c":115,"e":115},{"a":158,"b":158,"c":80,"e":143},{"a":158,"b":195,"c":80,"e":80},{"a":195,"b":195,"c":77,"e":107},{"a":195,"b":232,"c":77,"e":77},{"a":195,"b":208,"c":107,"e":107},{"a":208,"b":208,"c":90,"e":110},{"a":208,"b":255,"c":90,"e":90},{"a":208,"b":232,"c":110,"e":110},{"a":232,"b":232,"c":103,"e":117},{"a":232,"b":300,"c":113,"e":113},{"a":158,"b":188,"c":143,"e":143},{"a":188,"b":188,"c":130,"e":160},{"a":188,"b":220,"c":130,"e":130},{"a":188,"b":195,"c":160,"e":160},{"a":195,"b":195,"c":145,"e":165},{"a":195,"b":250,"c":145,"e":145},{"a":195,"b":215,"c":165,"e":165},{"a":215,"b":215,"c":160,"e":172},{"a":215,"b":262,"c":172,"e":172},{"a":118,"b":132,"c":190,"e":190},{"a":132,"b":132,"c":185,"e":197},{"a":132,"b":160,"c":185,"e":185},{"a":108,"b":135,"c":217,"e":217},{"a":135,"b":135,"c":210,"e":235},{"a":135,"b":165,"c":210,"e":210},{"a":135,"b":158,"c":235,"e":235},{"a":158,"b":158,"c":230,"e":243},{"a":158,"b":190,"c":243,"e":243},{"a":122,"b":122,"c":265,"e":310},{"a":108,"b":122,"c":290,"e":290},{"a":122,"b":155,"c":265,"e":265},{"a":155,"b":155,"c":255,"e":280},{"a":155,"b":185,"c":255,"e":255},{"a":155,"b":172,"c":280,"e":280},{"a":172,"b":172,"c":265,"e":297},{"a":172,"b":200,"c":265,"e":265},{"a":200,"b":200,"c":260,"e":275},{"a":200,"b":250,"c":275,"e":275},{"a":172,"b":195,"c":297,"e":297},{"a":122,"b":150,"c":310,"e":310},{"a":108,"b":135,"c":325,"e":325},{"a":115,"b":115,"c":330,"e":455},{"a":108,"b":115,"c":395,"e":395},{"a":115,"b":135,"c":395,"e":395},{"a":135,"b":135,"c":360,"e":395},{"a":135,"b":160,"c":360,"e":360},{"a":160,"b":160,"c":345,"e":385},{"a":160,"b":178,"c":345,"e":345},{"a":178,"b":178,"c":340,"e":360},{"a":178,"b":205,"c":340,"e":340},{"a":178,"b":255,"c":355,"e":355},{"a":160,"b":172,"c":385,"e":385},{"a":172,"b":172,"c":370,"e":392},{"a":172,"b":205,"c":370,"e":370},{"a":172,"b":205,"c":392,"e":392},{"a":205,"b":240,"c":382,"e":382},{"a":205,"b":265,"c":397,"e":397},{"a":115,"b":150,"c":425,"e":425},{"a":150,"b":150,"c":417,"e":440},{"a":150,"b":180,"c":417,"e":417},{"a":150,"b":185,"c":440,"e":440},{"a":185,"b":228,"c":445,"e":445},{"a":115,"b":130,"c":455,"e":455},{"a":130,"b":130,"c":455,"e":470},{"a":130,"b":195,"c":455,"e":455},{"a":130,"b":195,"c":470,"e":470},{"a":85,"b":85,"c":755,"e":1185},{"a":85,"b":105,"c":755,"e":755},{"a":105,"b":105,"c":575,"e":930},{"a":105,"b":125,"c":575,"e":575},{"a":125,"b":125,"c":515,"e":635},{"a":125,"b":135,"c":515,"e":515},{"a":135,"b":135,"c":490,"e":565},{"a":135,"b":165,"c":490,"e":490},{"a":165,"b":165,"c":485,"e":515},{"a":165,"b":205,"c":515,"e":515},{"a":135,"b":160,"c":565,"e":565},{"a":160,"b":160,"c":535,"e":565},{"a":160,"b":210,"c":535,"e":535},{"a":125,"b":165,"c":575,"e":575},{"a":165,"b":165,"c":570,"e":590},{"a":165,"b":220,"c":570,"e":570},{"a":130,"b":130,"c":635,"e":720},{"a":125,"b":130,"c":635,"e":635},{"a":130,"b":165,"c":660,"e":660},{"a":165,"b":165,"c":605,"e":690},{"a":165,"b":185,"c":605,"e":605},{"a":185,"b":185,"c":600,"e":650},{"a":185,"b":215,"c":600,"e":600},{"a":215,"b":215,"c":600,"e":625},{"a":215,"b":225,"c":625,"e":625},{"a":225,"b":225,"c":620,"e":635},{"a":225,"b":265,"c":635,"e":635},{"a":185,"b":200,"c":650,"e":650},{"a":200,"b":200,"c":645,"e":675},{"a":200,"b":220,"c":670,"e":670},{"a":165,"b":178,"c":695,"e":695},{"a":178,"b":178,"c":685,"e":705},{"a":178,"b":200,"c":685,"e":685},{"a":178,"b":200,"c":705,"e":705},{"a":130,"b":150,"c":720,"e":720},{"a":150,"b":150,"c":715,"e":745},{"a":150,"b":190,"c":715,"e":715},{"a":150,"b":165,"c":745,"e":745},{"a":165,"b":165,"c":730,"e":755},{"a":165,"b":190,"c":730,"e":730},{"a":165,"b":185,"c":755,"e":755},{"a":185,"b":185,"c":748,"e":770},{"a":185,"b":205,"c":748,"e":748},{"a":185,"b":205,"c":770,"e":770},{"a":205,"b":205,"c":760,"e":790},{"a":205,"b":225,"c":790,"e":790},{"a":225,"b":225,"c":775,"e":815},{"a":225,"b":255,"c":775,"e":775},{"a":255,"b":275,"c":785,"e":785},{"a":225,"b":240,"c":815,"e":815},{"a":240,"b":240,"c":800,"e":830},{"a":240,"b":262,"c":800,"e":800},{"a":240,"b":270,"c":830,"e":830},{"a":105,"b":115,"c":930,"e":930},{"a":115,"b":115,"c":875,"e":1020},{"a":115,"b":132,"c":875,"e":875},{"a":132,"b":132,"c":857,"e":890},{"a":132,"b":155,"c":857,"e":857},{"a":155,"b":155,"c":850,"e":865},{"a":155,"b":195,"c":850,"e":850},{"a":155,"b":190,"c":865,"e":865},{"a":132,"b":155,"c":890,"e":890},{"a":155,"b":155,"c":883,"e":900},{"a":155,"b":190,"c":883,"e":883},{"a":155,"b":170,"c":900,"e":900},{"a":115,"b":122,"c":1020,"e":1020},{"a":122,"b":122,"c":950,"e":1025},{"a":122,"b":148,"c":950,"e":950},{"a":148,"b":148,"c":925,"e":975},{"a":148,"b":165,"c":925,"e":925},{"a":165,"b":165,"c":915,"e":940},{"a":165,"b":215,"c":915,"e":915},{"a":215,"b":240,"c":920,"e":920},{"a":165,"b":195,"c":940,"e":940},{"a":195,"b":195,"c":935,"e":960},{"a":195,"b":250,"c":950,"e":950},{"a":148,"b":158,"c":975,"e":975},{"a":158,"b":158,"c":975,"e":1005},{"a":158,"b":230,"c":980,"e":980},{"a":158,"b":245,"c":1003,"e":1003},{"a":122,"b":135,"c":1025,"e":1025},{"a":135,"b":135,"c":1025,"e":1040},{"a":135,"b":190,"c":1025,"e":1025},{"a":135,"b":180,"c":1040,"e":1040},{"a":180,"b":190,"c":1045,"e":1045},{"a":72,"b":85,"c":970,"e":970},{"a":72,"b":72,"c":970,"e":2045},{"a":72,"b":82,"c":2045,"e":2045},{"a":85,"b":95,"c":1185,"e":1185},{"a":95,"b":95,"c":1095,"e":1270},{"a":95,"b":105,"c":1095,"e":1095},{"a":105,"b":105,"c":1080,"e":1110},{"a":105,"b":130,"c":1080,"e":1080},{"a":130,"b":130,"c":1063,"e":1090},{"a":130,"b":155,"c":1063,"e":1063},{"a":130,"b":190,"c":1090,"e":1090},{"a":105,"b":115,"c":1110,"e":1110},{"a":115,"b":115,"c":1105,"e":1150},{"a":115,"b":140,"c":1105,"e":1105},{"a":115,"b":180,"c":1125,"e":1125},{"a":180,"b":245,"c":1135,"e":1135},{"a":115,"b":150,"c":1150,"e":1150},{"a":95,"b":118,"c":1140,"e":1140},{"a":118,"b":118,"c":1125,"e":1220},{"a":118,"b":140,"c":1180,"e":1180},{"a":140,"b":140,"c":1170,"e":1190},{"a":140,"b":205,"c":1170,"e":1170},{"a":140,"b":185,"c":1190,"e":1190},{"a":118,"b":135,"c":1220,"e":1220},{"a":135,"b":135,"c":1205,"e":1250},{"a":135,"b":185,"c":1205,"e":1205},{"a":135,"b":225,"c":1230,"e":1230},{"a":135,"b":170,"c":1250,"e":1250},{"a":95,"b":100,"c":1270,"e":1270},{"a":100,"b":100,"c":1270,"e":1340},{"a":100,"b":115,"c":1340,"e":1340},{"a":100,"b":122,"c":1270,"e":1270},{"a":122,"b":122,"c":1270,"e":1305},{"a":122,"b":160,"c":1270,"e":1270},{"a":160,"b":215,"c":1290,"e":1290},{"a":122,"b":150,"c":1305,"e":1305},{"a":115,"b":115,"c":1340,"e":1475},{"a":115,"b":145,"c":1340,"e":1340},{"a":145,"b":145,"c":1325,"e":1360},{"a":145,"b":250,"c":1325,"e":1325},{"a":145,"b":155,"c":1365,"e":1365},{"a":155,"b":155,"c":1365,"e":1387},{"a":155,"b":195,"c":1375,"e":1375},{"a":155,"b":245,"c":1387,"e":1387},{"a":115,"b":150,"c":1415,"e":1415},{"a":115,"b":135,"c":1475,"e":1475},{"a":135,"b":135,"c":1430,"e":1520},{"a":135,"b":195,"c":1445,"e":1445},{"a":135,"b":160,"c":1520,"e":1520},{"a":160,"b":160,"c":1470,"e":1585},{"a":160,"b":175,"c":1470,"e":1470},{"a":175,"b":175,"c":1455,"e":1520},{"a":175,"b":230,"c":1455,"e":1455},{"a":175,"b":250,"c":1520,"e":1520},{"a":160,"b":230,"c":1545,"e":1545},{"a":160,"b":240,"c":1580,"e":1580},{"a":82,"b":82,"c":1890,"e":2200},{"a":82,"b":105,"c":1890,"e":1890},{"a":105,"b":105,"c":1755,"e":2125},{"a":105,"b":122,"c":1755,"e":1755},{"a":122,"b":122,"c":1670,"e":1835},{"a":122,"b":135,"c":1690,"e":1690},{"a":135,"b":135,"c":1630,"e":1750},{"a":135,"b":172,"c":1630,"e":1630},{"a":172,"b":172,"c":1615,"e":1645},{"a":172,"b":230,"c":1615,"e":1615},{"a":172,"b":230,"c":1645,"e":1645},{"a":135,"b":150,"c":1715,"e":1715},{"a":150,"b":150,"c":1680,"e":1745},{"a":150,"b":245,"c":1680,"e":1680},{"a":150,"b":170,"c":1745,"e":1745},{"a":170,"b":170,"c":1720,"e":1775},{"a":170,"b":240,"c":1720,"e":1720},{"a":170,"b":230,"c":1775,"e":1775},{"a":122,"b":180,"c":1805,"e":1805},{"a":130,"b":150,"c":1865,"e":1865},{"a":150,"b":150,"c":1840,"e":1900},{"a":150,"b":165,"c":1840,"e":1840},{"a":165,"b":165,"c":1825,"e":1855},{"a":165,"b":240,"c":1825,"e":1825},{"a":165,"b":210,"c":1855,"e":1855},{"a":150,"b":210,"c":1885,"e":1885},{"a":105,"b":130,"c":2000,"e":2000},{"a":130,"b":130,"c":1915,"e":2025},{"a":130,"b":185,"c":1915,"e":1915},{"a":130,"b":215,"c":1940,"e":1940},{"a":130,"b":150,"c":1975,"e":1975},{"a":150,"b":150,"c":1955,"e":1990},{"a":150,"b":215,"c":1955,"e":1955},{"a":150,"b":215,"c":1985,"e":1985},{"a":215,"b":300,"c":1985,"e":1985},{"a":170,"b":200,"c":2010,"e":2010},{"a":130,"b":145,"c":2025,"e":2025},{"a":108,"b":108,"c":2060,"e":2125},{"a":108,"b":135,"c":2060,"e":2060},{"a":135,"b":135,"c":2060,"e":2085},{"a":135,"b":150,"c":2085,"e":2085},{"a":150,"b":150,"c":2070,"e":2095},{"a":150,"b":210,"c":2070,"e":2070},{"a":150,"b":220,"c":2095,"e":2095},{"a":108,"b":118,"c":2115,"e":2115},{"a":115,"b":150,"c":2125,"e":2125},{"a":82,"b":100,"c":2200,"e":2200},{"a":100,"b":100,"c":2170,"e":2230},{"a":100,"b":130,"c":2170,"e":2170},{"a":130,"b":130,"c":2165,"e":2190},{"a":130,"b":205,"c":2165,"e":2165},{"a":130,"b":205,"c":2190,"e":2190},{"a":100,"b":118,"c":2230,"e":2230},{"a":118,"b":118,"c":2215,"e":2255},{"a":118,"b":130,"c":2215,"e":2215},{"a":118,"b":170,"c":2255,"e":2255}]},"mark":{"type":"rule","strokeWidth":1.4,"color":"#111111"},"encoding":{"x":{"field":"a","type":"quantitative"},"x2":{"field":"b"},"y":{"field":"c","type":"quantitative"},"y2":{"field":"e"}}}
]}
],"bounds":"flush","spacing":0}],"bounds":"flush","spacing":0},

{"vconcat":[{"width":1,"height":95,"data":{"values":[]},"mark":"point"},{"hconcat":[{"width":1111,"height":1,"data":{"values":[]},"mark":"point"},
{"width":668,"height":644,"view":{"stroke":"#555555","strokeWidth":2},"layer":[
{"data":{"values":[{"m":-1.25},{"m":1.25},{"m":3.75},{"m":6.25}]},"mark":{"type":"rule","color":"#F0F0F0","strokeWidth":1},"encoding":{"x":{"field":"m","type":"quantitative","scale":{"domain":[-3.33,6.98],"nice":false,"zero":false}}}},
{"data":{"values":[{"m":2.5},{"m":7.5},{"m":12.5},{"m":17.5},{"m":22.5}]},"mark":{"type":"rule","color":"#F0F0F0","strokeWidth":1},"encoding":{"y":{"field":"m","type":"quantitative","scale":{"domain":[-1.06,24.23],"nice":false,"zero":false}}}},
{"data":{"values":[{"logFC":-0.94,"fdr":23.09,"Significant":"Down"},{"logFC":-2.87,"fdr":21.53,"Significant":"Down"},{"logFC":-1.11,"fdr":21.01,"Significant":"Down"},{"logFC":-0.88,"fdr":20.67,"Significant":"Down"},{"logFC":-1.06,"fdr":20.64,"Significant":"Down"},{"logFC":-1.47,"fdr":20.47,"Significant":"Down"},{"logFC":-1.7,"fdr":19.62,"Significant":"Down"},{"logFC":-1.75,"fdr":19.29,"Significant":"Down"},{"logFC":-1.23,"fdr":19.55,"Significant":"Down"},{"logFC":-1.1,"fdr":18.62,"Significant":"Down"},{"logFC":-1.57,"fdr":18.01,"Significant":"Down"},{"logFC":-1.02,"fdr":17.97,"Significant":"Down"},{"logFC":-0.56,"fdr":18.02,"Significant":"Down"},{"logFC":-0.51,"fdr":17.23,"Significant":"Down"},{"logFC":-0.87,"fdr":17.02,"Significant":"Down"},{"logFC":-0.79,"fdr":16.85,"Significant":"Down"},{"logFC":-0.61,"fdr":16.87,"Significant":"Down"},{"logFC":-0.72,"fdr":16.12,"Significant":"Down"},{"logFC":-1.18,"fdr":15.7,"Significant":"Down"},{"logFC":-0.59,"fdr":14.61,"Significant":"Down"},{"logFC":-1.69,"fdr":14.4,"Significant":"Down"},{"logFC":-1.29,"fdr":14.39,"Significant":"Down"},{"logFC":-1.96,"fdr":13.67,"Significant":"Down"},{"logFC":-0.51,"fdr":13.85,"Significant":"Down"},{"logFC":-0.59,"fdr":13.8,"Significant":"Down"},{"logFC":-1.04,"fdr":13.24,"Significant":"Down"},{"logFC":-2.16,"fdr":12.03,"Significant":"Down"},{"logFC":-1.29,"fdr":11.95,"Significant":"Down"},{"logFC":-1.22,"fdr":11.77,"Significant":"Down"},{"logFC":-0.7,"fdr":11.97,"Significant":"Down"},{"logFC":-0.59,"fdr":11.89,"Significant":"Down"},{"logFC":-0.56,"fdr":11.78,"Significant":"Down"},{"logFC":-0.74,"fdr":11.69,"Significant":"Down"},{"logFC":-0.8,"fdr":11.49,"Significant":"Down"},{"logFC":-0.78,"fdr":11.34,"Significant":"Down"},{"logFC":-0.87,"fdr":10.94,"Significant":"Down"},{"logFC":-0.66,"fdr":10.94,"Significant":"Down"},{"logFC":-1.01,"fdr":10.52,"Significant":"Down"},{"logFC":-0.55,"fdr":10.52,"Significant":"Down"},{"logFC":-0.64,"fdr":10,"Significant":"Down"},{"logFC":-0.6,"fdr":8.53,"Significant":"Down"},{"logFC":-0.75,"fdr":8.27,"Significant":"Down"},{"logFC":-0.56,"fdr":7.4,"Significant":"Down"},{"logFC":-0.66,"fdr":6.49,"Significant":"Down"},{"logFC":-0.68,"fdr":6.2,"Significant":"Down"},{"logFC":-0.52,"fdr":5.93,"Significant":"Down"},{"logFC":-0.63,"fdr":5.77,"Significant":"Down"},{"logFC":-1.76,"fdr":5.22,"Significant":"Down"},{"logFC":-0.62,"fdr":4.42,"Significant":"Down"},{"logFC":-1.17,"fdr":4.18,"Significant":"Down"},{"logFC":-0.79,"fdr":2.4,"Significant":"Down"},
{"logFC":-0.47,"fdr":12.69,"Significant":"Not"},{"logFC":-0.44,"fdr":11.78,"Significant":"Not"},{"logFC":-0.47,"fdr":10.94,"Significant":"Not"},{"logFC":-0.4,"fdr":10.94,"Significant":"Not"},{"logFC":-0.39,"fdr":10.16,"Significant":"Not"},{"logFC":-0.37,"fdr":9.95,"Significant":"Not"},{"logFC":-0.28,"fdr":9.82,"Significant":"Not"},{"logFC":-0.39,"fdr":9.18,"Significant":"Not"},{"logFC":-0.38,"fdr":8.18,"Significant":"Not"},{"logFC":-0.37,"fdr":7.79,"Significant":"Not"},{"logFC":-0.28,"fdr":7.38,"Significant":"Not"},{"logFC":-0.31,"fdr":6.94,"Significant":"Not"},{"logFC":-0.39,"fdr":6.91,"Significant":"Not"},{"logFC":-0.49,"fdr":6.7,"Significant":"Not"},{"logFC":-0.28,"fdr":6.7,"Significant":"Not"},{"logFC":-0.35,"fdr":6.49,"Significant":"Not"},{"logFC":-0.21,"fdr":5.89,"Significant":"Not"},{"logFC":-0.41,"fdr":5.77,"Significant":"Not"},{"logFC":-0.27,"fdr":5.62,"Significant":"Not"},{"logFC":-0.27,"fdr":5.21,"Significant":"Not"},{"logFC":-0.37,"fdr":4.75,"Significant":"Not"},{"logFC":-0.27,"fdr":4.75,"Significant":"Not"},{"logFC":-0.21,"fdr":4.62,"Significant":"Not"},{"logFC":-0.21,"fdr":4.23,"Significant":"Not"},{"logFC":-0.22,"fdr":3.87,"Significant":"Not"},{"logFC":-0.2,"fdr":3.55,"Significant":"Not"},{"logFC":-0.42,"fdr":3.38,"Significant":"Not"},{"logFC":-0.13,"fdr":3.38,"Significant":"Not"},{"logFC":-0.22,"fdr":3.38,"Significant":"Not"},{"logFC":-0.22,"fdr":2.85,"Significant":"Not"},{"logFC":-0.38,"fdr":2.53,"Significant":"Not"},{"logFC":-0.08,"fdr":2.59,"Significant":"Not"},{"logFC":-0.21,"fdr":2.5,"Significant":"Not"},{"logFC":-0.23,"fdr":2.3,"Significant":"Not"},{"logFC":-0.03,"fdr":2.21,"Significant":"Not"},{"logFC":-0.15,"fdr":2.24,"Significant":"Not"},{"logFC":-0.3,"fdr":1.91,"Significant":"Not"},{"logFC":-0.06,"fdr":1.85,"Significant":"Not"},{"logFC":-0.05,"fdr":1.45,"Significant":"Not"},{"logFC":-0.1,"fdr":1.19,"Significant":"Not"},{"logFC":-0.03,"fdr":0.99,"Significant":"Not"},{"logFC":-0.18,"fdr":0.86,"Significant":"Not"},{"logFC":-0.08,"fdr":0.8,"Significant":"Not"},{"logFC":-0.05,"fdr":0.6,"Significant":"Not"},{"logFC":0.03,"fdr":0.54,"Significant":"Not"},{"logFC":-0.03,"fdr":0.37,"Significant":"Not"},{"logFC":0.1,"fdr":0.27,"Significant":"Not"},{"logFC":0.04,"fdr":0.05,"Significant":"Not"},{"logFC":0.13,"fdr":0.08,"Significant":"Not"},{"logFC":0.32,"fdr":0.08,"Significant":"Not"},{"logFC":0.46,"fdr":0.14,"Significant":"Not"},{"logFC":0.36,"fdr":0.73,"Significant":"Not"},{"logFC":0.44,"fdr":0.5,"Significant":"Not"},{"logFC":0.2,"fdr":0.93,"Significant":"Not"},{"logFC":0.22,"fdr":0.67,"Significant":"Not"},{"logFC":0.1,"fdr":0.54,"Significant":"Not"},{"logFC":0.23,"fdr":1.39,"Significant":"Not"},{"logFC":0.23,"fdr":1.62,"Significant":"Not"},{"logFC":0.22,"fdr":1.81,"Significant":"Not"},{"logFC":0.14,"fdr":2.21,"Significant":"Not"},{"logFC":0.2,"fdr":2.54,"Significant":"Not"},{"logFC":0.28,"fdr":2.37,"Significant":"Not"},{"logFC":0.43,"fdr":2.57,"Significant":"Not"},{"logFC":0.49,"fdr":1.26,"Significant":"Not"},{"logFC":0.68,"fdr":0.9,"Significant":"Not"},{"logFC":0.92,"fdr":0.64,"Significant":"Not"},{"logFC":0.64,"fdr":0.27,"Significant":"Not"},{"logFC":1.52,"fdr":0.34,"Significant":"Not"},{"logFC":2.04,"fdr":0.64,"Significant":"Not"},{"logFC":1.07,"fdr":0.24,"Significant":"Not"},{"logFC":1.02,"fdr":0.08,"Significant":"Not"},{"logFC":0.48,"fdr":9.27,"Significant":"Not"},{"logFC":0.41,"fdr":9.04,"Significant":"Not"},{"logFC":0.49,"fdr":7.91,"Significant":"Not"},{"logFC":0.35,"fdr":5.99,"Significant":"Not"},{"logFC":0.35,"fdr":5.84,"Significant":"Not"},{"logFC":0.49,"fdr":6.16,"Significant":"Not"},{"logFC":0.49,"fdr":5.84,"Significant":"Not"},{"logFC":0.47,"fdr":5.6,"Significant":"Not"},{"logFC":0.32,"fdr":5.22,"Significant":"Not"},{"logFC":0.37,"fdr":4.86,"Significant":"Not"},{"logFC":0.49,"fdr":4.92,"Significant":"Not"},{"logFC":0.45,"fdr":3.98,"Significant":"Not"},{"logFC":0.37,"fdr":3.81,"Significant":"Not"},
{"logFC":1.84,"fdr":22.06,"Significant":"Up"},{"logFC":1.92,"fdr":19.45,"Significant":"Up"},{"logFC":1,"fdr":18.73,"Significant":"Up"},{"logFC":1.02,"fdr":18.61,"Significant":"Up"},{"logFC":1.22,"fdr":17.86,"Significant":"Up"},{"logFC":0.72,"fdr":17.29,"Significant":"Up"},{"logFC":1.18,"fdr":17.04,"Significant":"Up"},{"logFC":2.11,"fdr":17.04,"Significant":"Up"},{"logFC":1.58,"fdr":16.3,"Significant":"Up"},{"logFC":1.75,"fdr":15.24,"Significant":"Up"},{"logFC":1.52,"fdr":15.06,"Significant":"Up"},{"logFC":1.34,"fdr":14.48,"Significant":"Up"},{"logFC":1.67,"fdr":14,"Significant":"Up"},{"logFC":2.51,"fdr":13.92,"Significant":"Up"},{"logFC":0.59,"fdr":12.49,"Significant":"Up"},{"logFC":1.93,"fdr":12.16,"Significant":"Up"},{"logFC":0.9,"fdr":11.69,"Significant":"Up"},{"logFC":0.85,"fdr":10.03,"Significant":"Up"},{"logFC":0.73,"fdr":9.86,"Significant":"Up"},{"logFC":0.67,"fdr":9.54,"Significant":"Up"},{"logFC":0.96,"fdr":9.62,"Significant":"Up"},{"logFC":1.99,"fdr":9.62,"Significant":"Up"},{"logFC":0.81,"fdr":8.99,"Significant":"Up"},{"logFC":0.9,"fdr":8.99,"Significant":"Up"},{"logFC":0.64,"fdr":8.19,"Significant":"Up"},{"logFC":0.7,"fdr":7.57,"Significant":"Up"},{"logFC":0.77,"fdr":7.43,"Significant":"Up"},{"logFC":0.94,"fdr":7.41,"Significant":"Up"},{"logFC":0.62,"fdr":7.12,"Significant":"Up"},{"logFC":1.38,"fdr":6.96,"Significant":"Up"},{"logFC":1.74,"fdr":6.7,"Significant":"Up"},{"logFC":1.05,"fdr":6.47,"Significant":"Up"},{"logFC":0.51,"fdr":6.43,"Significant":"Up"},{"logFC":0.49,"fdr":5.99,"Significant":"Up"},{"logFC":0.59,"fdr":5.58,"Significant":"Up"},{"logFC":0.88,"fdr":5.64,"Significant":"Up"},{"logFC":2.09,"fdr":5.46,"Significant":"Up"},{"logFC":1.28,"fdr":5.25,"Significant":"Up"},{"logFC":1.17,"fdr":5.18,"Significant":"Up"},{"logFC":1.08,"fdr":5,"Significant":"Up"},{"logFC":0.54,"fdr":4.63,"Significant":"Up"},{"logFC":0.67,"fdr":4.55,"Significant":"Up"},{"logFC":0.59,"fdr":4.33,"Significant":"Up"},{"logFC":1.12,"fdr":4.45,"Significant":"Up"},{"logFC":1.31,"fdr":4.49,"Significant":"Up"},{"logFC":1.5,"fdr":4.42,"Significant":"Up"},{"logFC":1.28,"fdr":4.24,"Significant":"Up"},{"logFC":1.18,"fdr":4.2,"Significant":"Up"},{"logFC":1.19,"fdr":3.81,"Significant":"Up"},{"logFC":1.77,"fdr":3.97,"Significant":"Up"},{"logFC":0.77,"fdr":2.6,"Significant":"Up"},{"logFC":0.67,"fdr":2.54,"Significant":"Up"},{"logFC":0.55,"fdr":2.3,"Significant":"Up"},{"logFC":0.92,"fdr":2.26,"Significant":"Up"},{"logFC":0.64,"fdr":1.91,"Significant":"Up"},{"logFC":0.59,"fdr":1.71,"Significant":"Up"},{"logFC":1.94,"fdr":2.03,"Significant":"Up"},{"logFC":1.17,"fdr":1.98,"Significant":"Up"},{"logFC":0.88,"fdr":1.7,"Significant":"Up"},{"logFC":0.91,"fdr":1.61,"Significant":"Up"},{"logFC":1.21,"fdr":1.69,"Significant":"Up"},{"logFC":0.54,"fdr":1.52,"Significant":"Up"},{"logFC":0.6,"fdr":1.45,"Significant":"Up"},{"logFC":2.93,"fdr":23.1,"Significant":"Up"},{"logFC":3.71,"fdr":23.1,"Significant":"Up"},{"logFC":3.19,"fdr":22.4,"Significant":"Up"},{"logFC":2.98,"fdr":21.49,"Significant":"Up"},{"logFC":3,"fdr":21.52,"Significant":"Up"},{"logFC":3.31,"fdr":18.64,"Significant":"Up"},{"logFC":3.49,"fdr":18.57,"Significant":"Up"},{"logFC":6.52,"fdr":17.21,"Significant":"Up"},{"logFC":2.81,"fdr":11.51,"Significant":"Up"},{"logFC":2.91,"fdr":5.27,"Significant":"Up"}]},"mark":{"type":"point","filled":true,"size":115,"opacity":1},"encoding":{"x":{"field":"logFC","type":"quantitative","scale":{"domain":[-3.33,6.98],"nice":false,"zero":false},"axis":{"values":[-2.5,0,2.5,5],"format":".1f","title":"logFC","titleFontSize":26,"titleColor":"black","titlePadding":8,"labelFontSize":20,"labelColor":"#4D4D4D","tickColor":"#333333","tickSize":5,"tickWidth":1.5,"domain":false,"grid":true,"gridColor":"#EBEBEB","gridWidth":2,"labelPadding":4}},"y":{"field":"fdr","type":"quantitative","scale":{"domain":[-1.06,24.23],"nice":false,"zero":false},"axis":{"values":[0,5,10,15,20],"title":"−log10(fdr)","titleFontSize":26.5,"titleColor":"black","titlePadding":11,"labelFontSize":20,"labelColor":"#4D4D4D","tickColor":"#333333","tickSize":5,"tickWidth":1.5,"domain":false,"grid":true,"gridColor":"#EBEBEB","gridWidth":2,"labelPadding":4}},"color":{"field":"Significant","type":"nominal","scale":{"domain":["Down","Not","Up"],"range":["#00FF00","#000000","#FF0000"]},"legend":{"orient":"none","legendX":708,"legendY":243,"title":"Significant","titleFontSize":25.5,"titleColor":"black","titlePadding":21,"labelFontSize":21,"labelColor":"#333333","labelOffset":21.5,"symbolType":"circle","symbolSize":115,"symbolOffset":10,"rowPadding":19.8}}}}
]}
],"bounds":"flush","spacing":0,"resolve":{"scale":{"color":"independent"}}}],"bounds":"flush","spacing":0,"resolve":{"scale":{"color":"independent"}}},

{"vconcat":[{"width":1,"height":897,"data":{"values":[]},"mark":"point"},{"hconcat":[{"width":217,"height":1,"data":{"values":[]},"mark":"point"},
{"concat":[
{"width":596,"height":257,"view":{"stroke":"#8C8C8C","strokeWidth":2},"layer":[
{"data":{"values":[{"m":10},{"m":30},{"m":50}]},"mark":{"type":"rule","color":"#F2F2F2","strokeWidth":1},"encoding":{"x":{"field":"m","type":"quantitative","scale":{"domain":[-2.82,60.9],"nice":false,"zero":false}}}},
{"data":{"values":[{"term":"cell aging","Count":54,"q":1e-8},{"term":"aging","Count":58,"q":1e-8},{"term":"cellular senescene","Count":34,"q":1e-8},{"term":"nucleosome assembly","Count":31,"q":1e-8},{"term":"chromatin assembly","Count":32,"q":1e-8},{"term":"chromatin assembly or|disassembly","Count":33,"q":1e-8},{"term":"DNA packing","Count":34,"q":1e-8},{"term":"nucleosome organization","Count":32,"q":1e-8},{"term":"DNA conformation change","Count":36,"q":1e-8},{"term":"protein-DNA complex assembly","Count":31,"q":1e-8}]},"mark":{"type":"bar"},"encoding":{"x":{"field":"Count","type":"quantitative","scale":{"domain":[-2.82,60.9],"nice":false,"zero":false},"axis":{"values":[0,20,40,60],"labels":false,"ticks":false,"domain":false,"title":null,"grid":true,"gridColor":"#F0F0F0","gridWidth":1}},"y":{"field":"term","type":"nominal","sort":null,"scale":{"paddingInner":0.1,"paddingOuter":0.15},"axis":{"title":null,"domain":false,"grid":true,"gridColor":"#F0F0F0","gridWidth":1.5,"tickSize":3,"tickColor":"#333333","labelFont":"Liberation Serif","labelFontWeight":"bold","labelFontSize":15.4,"labelColor":"black","labelLimit":400,"labelPadding":2,"labelLineHeight":12.7,"labelExpr":"split(datum.label,'|')","labelOffset":{"expr":"-(length(split(datum.value,'|'))-1)*6.35"}}},"color":{"field":"q","type":"quantitative","scale":{"domain":[4.5e-5,0],"range":["#0000FF","#FF0000"],"interpolate":"lab","nice":false,"zero":false},"legend":null}}}
]},
{"width":15,"height":257,"view":{"fill":"#D9D9D9"},"data":{"values":[{"f":"BP"}]},"mark":{"type":"text","angle":90,"fontSize":8,"color":"#333333"},"encoding":{"text":{"field":"f"},"y":{"field":"f","type":"nominal","scale":{"padding":0},"axis":{"labels":false,"ticks":false,"title":null,"domainColor":"#333333","domainWidth":1.5,"orient":"left"}}}},
{"width":596,"height":257,"view":{"stroke":"#8C8C8C","strokeWidth":2},"layer":[
{"data":{"values":[{"m":10},{"m":30},{"m":50}]},"mark":{"type":"rule","color":"#F2F2F2","strokeWidth":1},"encoding":{"x":{"field":"m","type":"quantitative","scale":{"domain":[-2.82,60.9],"nice":false,"zero":false}}}},
{"data":{"values":[{"term":"nucleosome","Count":34,"q":1e-8},{"term":"DNA packing complex","Count":34,"q":1e-8},{"term":"protein-DNA complex","Count":38,"q":1e-8},{"term":"chromosome,telomeric region","Count":20,"q":1e-8},{"term":"nuclear chromosome","Count":18,"q":1e-8},{"term":"chromosomal region","Count":20,"q":1e-8},{"term":"nuclear ubiquitin ligase|complex","Count":9,"q":1e-8},{"term":"euchromatin","Count":7,"q":1e-8},{"term":"PML body","Count":9,"q":1e-8},{"term":"heterochromatin","Count":8,"q":1e-8}]},"mark":{"type":"bar"},"encoding":{"x":{"field":"Count","type":"quantitative","scale":{"domain":[-2.82,60.9],"nice":false,"zero":false},"axis":{"values":[0,20,40,60],"labels":false,"ticks":false,"domain":false,"title":null,"grid":true,"gridColor":"#F0F0F0","gridWidth":1}},"y":{"field":"term","type":"nominal","sort":null,"scale":{"paddingInner":0.1,"paddingOuter":0.15},"axis":{"title":null,"domain":false,"grid":true,"gridColor":"#F0F0F0","gridWidth":1.5,"tickSize":3,"tickColor":"#333333","labelFont":"Liberation Serif","labelFontWeight":"bold","labelFontSize":15.4,"labelColor":"black","labelLimit":400,"labelPadding":2,"labelLineHeight":12.7,"labelExpr":"split(datum.label,'|')","labelOffset":{"expr":"-(length(split(datum.value,'|'))-1)*6.35"}}},"color":{"field":"q","type":"quantitative","scale":{"domain":[4.5e-5,0],"range":["#0000FF","#FF0000"],"interpolate":"lab","nice":false,"zero":false},"legend":{"orient":"none","legendX":627,"legendY":82,"title":"qvalue","titleFontSize":10,"titleColor":"black","titlePadding":4,"gradientLength":77,"gradientThickness":15,"gradientStrokeWidth":0,"values":[1e-5,2e-5,3e-5,4e-5],"format":".0e","labelExpr":"replace(datum.label,'e-','e-0')","labelFontSize":9,"labelOffset":5,"labelColor":"black"}}}}
]},
{"width":15,"height":257,"view":{"fill":"#D9D9D9"},"data":{"values":[{"f":"CC"}]},"mark":{"type":"text","angle":90,"fontSize":8,"color":"#333333"},"encoding":{"text":{"field":"f"},"y":{"field":"f","type":"nominal","scale":{"padding":0},"axis":{"labels":false,"ticks":false,"title":null,"domainColor":"#333333","domainWidth":1.5,"orient":"left"}}}},
{"width":596,"height":256,"view":{"stroke":"#8C8C8C","strokeWidth":2},"layer":[
{"data":{"values":[{"m":10},{"m":30},{"m":50}]},"mark":{"type":"rule","color":"#F2F2F2","strokeWidth":1},"encoding":{"x":{"field":"m","type":"quantitative","scale":{"domain":[-2.82,60.9],"nice":false,"zero":false}}}},
{"data":{"values":[{"term":"protein heterodimerization|activity","Count":30,"q":1e-8},{"term":"protein serine kinase activity","Count":21,"q":1e-8},{"term":"protein serine/threonine|kinase activity","Count":19,"q":1e-8},{"term":"cyclin-dependent protein|serine/threonine kinase|regulator activity","Count":8,"q":1e-8},{"term":"MAP kinase kinase activity","Count":5,"q":0.45e-5},{"term":"RNA polymerase II-specific","Count":13,"q":0.5e-5},{"term":"DNA-binding transcription|factor binding","Count":14,"q":1.1e-5},{"term":"chromatin DNA binding","Count":8,"q":1.35e-5},{"term":"protein kinase regulator|activity","Count":10,"q":3.4e-5},{"term":"MAP kinase activity","Count":4,"q":4.5e-5}]},"mark":{"type":"bar"},"encoding":{"x":{"field":"Count","type":"quantitative","scale":{"domain":[-2.82,60.9],"nice":false,"zero":false},"axis":{"values":[0,20,40,60],"title":"Count","titleFontSize":11,"titleColor":"black","titlePadding":1,"labelFontSize":11,"labelColor":"#333333","tickSize":2,"tickColor":"#333333","labelPadding":0,"domain":false,"grid":true,"gridColor":"#F0F0F0","gridWidth":1}},"y":{"field":"term","type":"nominal","sort":null,"scale":{"paddingInner":0.1,"paddingOuter":0.15},"axis":{"title":null,"domain":false,"grid":true,"gridColor":"#F0F0F0","gridWidth":1.5,"tickSize":3,"tickColor":"#333333","labelFont":"Liberation Serif","labelFontWeight":"bold","labelFontSize":15.4,"labelColor":"black","labelLimit":400,"labelPadding":2,"labelLineHeight":12.7,"labelExpr":"split(datum.label,'|')","labelOffset":{"expr":"-(length(split(datum.value,'|'))-1)*6.35"}}},"color":{"field":"q","type":"quantitative","scale":{"domain":[4.5e-5,0],"range":["#0000FF","#FF0000"],"interpolate":"lab","nice":false,"zero":false},"legend":null}}}
]},
{"width":15,"height":256,"view":{"fill":"#D9D9D9"},"data":{"values":[{"f":"MF"}]},"mark":{"type":"text","angle":90,"fontSize":8,"color":"#333333"},"encoding":{"text":{"field":"f"},"y":{"field":"f","type":"nominal","scale":{"padding":0},"axis":{"labels":false,"ticks":false,"title":null,"domainColor":"#333333","domainWidth":1.5,"orient":"left"}}}}
],"columns":2,"spacing":{"row":5,"column":0},"bounds":"flush","resolve":{"scale":{"color":"independent"}}}
],"bounds":"flush","spacing":0,"resolve":{"scale":{"color":"independent"}}}],"bounds":"flush","spacing":0,"resolve":{"scale":{"color":"independent"}}},

{"vconcat":[{"width":1,"height":911,"data":{"values":[]},"mark":"point"},{"hconcat":[{"width":1287,"height":1,"data":{"values":[]},"mark":"point"},
{"width":476,"height":746,"view":{"stroke":"#8C8C8C","strokeWidth":2},"layer":[
{"data":{"values":[{"m":5},{"m":15},{"m":25},{"m":35}]},"mark":{"type":"rule","color":"#F2F2F2","strokeWidth":1},"encoding":{"x":{"field":"m","type":"quantitative","scale":{"domain":[-1.67,35.6],"nice":false,"zero":false}}}},
{"data":{"values":[{"term":"Neutrophil extracellular|trap formation","Count":34,"q":1e-11},{"term":"Systemic lupus erythematosus","Count":29,"q":1e-11},{"term":"Alcoholism","Count":32,"q":1e-11},{"term":"Cellular senescence","Count":30,"q":1e-11},{"term":"Viral carcinogenesis","Count":32,"q":1e-11},{"term":"Human T−cell leukemia virus|1 infection","Count":32,"q":1e-11},{"term":"Hepatitis B","Count":22,"q":1e-11},{"term":"Cell cycle","Count":18,"q":1e-11},{"term":"AGE−RAGE signaling pathway|in diabetic complications","Count":16,"q":1e-11},{"term":"Endocrine resistance","Count":15,"q":1e-11},{"term":"Kaposi sarcoma−associated|herpesvirus infection","Count":19,"q":1e-11},{"term":"Epstein−Barr virus infection","Count":19,"q":1e-11},{"term":"Shigellosis","Count":20,"q":1e-11},{"term":"TNF signaling pathway","Count":14,"q":2.9e-10},{"term":"Pancreatic cancer","Count":12,"q":3.3e-10},{"term":"Transcriptional|misregulation in cancer","Count":17,"q":3.8e-10},{"term":"Toll−like receptor signaling|pathway","Count":13,"q":8.8e-10},{"term":"FoxO signaling pathway","Count":14,"q":1.47e-9},{"term":"Apoptosis","Count":14,"q":2.5e-9},{"term":"p53 signaling pathway","Count":11,"q":2.945e-9}]},"mark":{"type":"bar"},"encoding":{"x":{"field":"Count","type":"quantitative","scale":{"domain":[-1.67,35.6],"nice":false,"zero":false},"axis":{"values":[0,10,20,30],"title":"Count","titleFontSize":17,"titleColor":"black","titlePadding":4,"labelFontSize":17,"labelColor":"black","tickSize":4,"tickColor":"#333333","labelPadding":1,"domain":false,"grid":true,"gridColor":"#EBEBEB","gridWidth":1.3}},"y":{"field":"term","type":"nominal","sort":null,"scale":{"paddingInner":0.1,"paddingOuter":0.15},"axis":{"title":null,"domain":false,"grid":true,"gridColor":"#EBEBEB","gridWidth":1.5,"tickSize":4,"tickColor":"#333333","labelFontSize":17.6,"labelColor":"black","labelLimit":400,"labelPadding":3,"labelLineHeight":19,"labelExpr":"split(datum.label,'|')","labelOffset":{"expr":"-(length(split(datum.value,'|'))-1)*9.5"}}},"color":{"field":"q","type":"quantitative","scale":{"domain":[2.945e-9,0],"range":["#0000FF","#FF0000"],"interpolate":"lab","nice":false,"zero":false},"legend":{"orient":"none","legendX":501,"legendY":299,"title":"qvalue","titleFontSize":15,"titleColor":"black","titlePadding":7,"gradientLength":125,"gradientThickness":25,"gradientStrokeWidth":0,"values":[1e-9,2e-9],"format":".0e","labelExpr":"replace(datum.label,'e-','e−0')","labelFontSize":13,"labelOffset":8,"labelColor":"black"}}}}
]}
],"bounds":"flush","spacing":0,"resolve":{"scale":{"color":"independent"}}}],"bounds":"flush","spacing":0,"resolve":{"scale":{"color":"independent"}}}
]}
